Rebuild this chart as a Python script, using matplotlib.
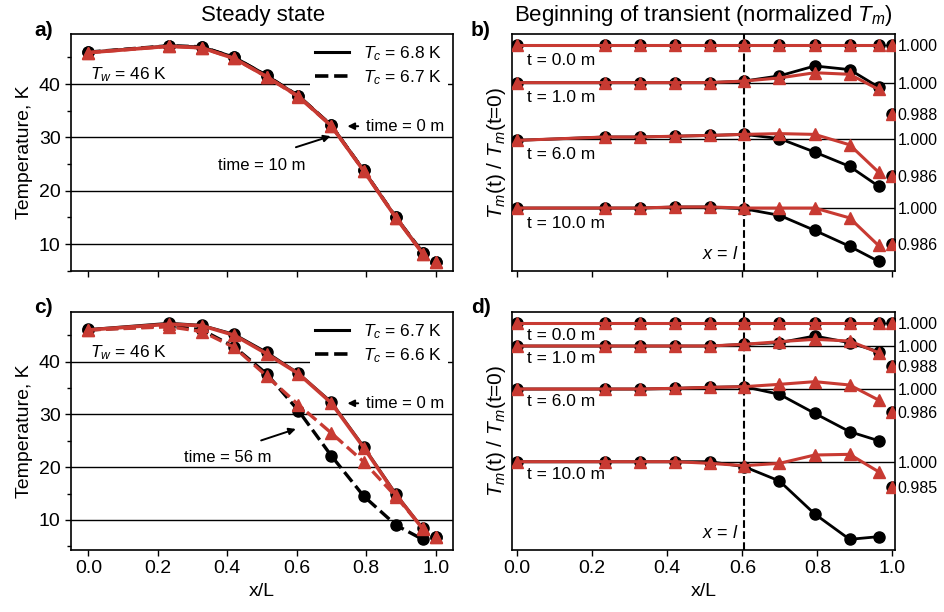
import matplotlib
matplotlib.use('Agg')
import matplotlib.pyplot as plt
import numpy as np

plt.rcParams['font.family'] = ['Liberation Sans', 'DejaVu Sans']
plt.rcParams['mathtext.fontset'] = 'custom'
plt.rcParams['mathtext.rm'] = 'Liberation Sans'
plt.rcParams['mathtext.it'] = 'Liberation Sans:italic'

RED = '#c83a32'

# positions along the channel (x/L)
x_pos = [0.0, 0.233, 0.327, 0.42, 0.513, 0.605, 0.699, 0.793, 0.886, 0.963, 1.0]

# a) steady state, Tc = 6.8 K (time 0) and Tc = 6.7 K (time 10 m)
a_black_solid = [46.0, 47.2, 47.0, 45.1, 41.7, 37.8, 32.4, 23.9, 15.0, 8.4, 6.7]
a_red_solid = [45.9, 47.1, 46.8, 44.8, 41.4, 37.7, 32.2, 23.7, 14.9, 8.2, 6.6]
a_black_dash = [46.0, 47.2, 47.0, 45.0, 41.6, 37.8, 32.3, 23.8, 15.0, 8.4, 6.7]
a_red_dash = [45.9, 47.1, 46.8, 44.8, 41.4, 37.6, 32.2, 23.7, 14.9, 8.2, 6.6]

# c) steady state, Tc = 6.7 K (time 0) and Tc = 6.6 K (time 56 m)
c_black_solid = [46.1, 47.3, 46.9, 45.2, 41.8, 37.8, 32.4, 23.9, 14.9, 8.4, 6.8]
c_red_solid = [46.0, 47.1, 46.8, 45.0, 41.5, 37.7, 32.2, 23.7, 14.7, 8.3, 6.7]
c_black_dash = [46.0, 46.8, 46.0, 42.8, 37.7, 30.7, 22.2, 14.5, 9.0, 6.3, 6.8]
c_red_dash = [46.0, 46.6, 45.7, 42.7, 37.3, 31.8, 26.5, 21.0, 14.4, 8.4, 6.7]

# b) normalized Tm at t = 0, 1, 6, 10 min
times = ['0.0', '1.0', '6.0', '10.0']
b_black = {
    '0.0': [1.0] * 11,
    '1.0': [1.0, 1.0, 1.0, 1.0, 1.0, 1.0006, 1.0026, 1.0064, 1.0050, 0.9983, 0.988],
    '6.0': [0.9996, 1.0009, 1.0009, 1.0012, 1.0015, 1.0019, 1.0003, 0.9951, 0.9896, 0.9820, 0.986],
    '10.0': [1.0, 1.0, 1.0, 1.0004, 1.0004, 0.9997, 0.9972, 0.9914, 0.9853, 0.9795, 0.986],
}
b_red = {
    '0.0': [1.0] * 11,
    '1.0': [1.0, 1.0, 1.0, 1.0, 1.0, 1.0006, 1.0018, 1.0038, 1.0032, 0.9974, 0.988],
    '6.0': [0.9996, 1.0009, 1.0009, 1.0012, 1.0015, 1.0019, 1.0022, 1.0019, 0.9979, 0.9874, 0.986],
    '10.0': [1.0, 1.0, 1.0, 1.0004, 1.0004, 1.0, 1.0, 1.0, 0.9962, 0.9856, 0.986],
}
b_ticks = {'0.0': [1.000], '1.0': [1.000, 0.988], '6.0': [1.000, 0.986], '10.0': [1.000, 0.986]}

# d) same for the second case
d_black = {
    '0.0': [1.0] * 11,
    '1.0': [1.0, 1.0, 1.0, 1.0, 1.0, 1.001, 1.002, 1.006, 1.002, 0.9966, 0.988],
    '6.0': [1.0, 1.0, 1.0, 1.0004, 1.001, 1.0014, 0.9968, 0.9854, 0.9744, 0.969, 0.986],
    '10.0': [1.0, 1.0, 1.0, 1.0, 1.0, 0.997, 0.9884, 0.9686, 0.9534, 0.955, 0.985],
}
d_red = {
    '0.0': [1.0] * 11,
    '1.0': [1.0, 1.0, 1.0, 1.0, 1.0, 1.001, 1.0026, 1.004, 1.003, 0.996, 0.988],
    '6.0': [1.0, 1.0, 1.0, 1.0004, 1.001, 1.0014, 1.0028, 1.0044, 1.0024, 0.9934, 0.986],
    '10.0': [1.0, 1.0, 1.0, 1.0, 0.999, 0.9976, 0.999, 1.004, 1.0044, 0.994, 0.985],
}
d_ticks = {'0.0': [1.000], '1.0': [1.000, 0.988], '6.0': [1.000, 0.986], '10.0': [1.000, 0.985]}

x_l = 0.605  # x = l

# vertical stacking of the normalized curves (plot units of 0.001)
b_offsets = {'0.0': 86.8, '1.0': 72.4, '6.0': 50.6, '10.0': 24.2}
d_offsets = {'0.0': 136.4, '1.0': 122.4, '6.0': 96.6, '10.0': 53.0}


def plot_series(ax, y, color, marker, ls, lw, ms, z):
    # last point (x/L = 1) is drawn on its own, not joined to the line
    ax.plot(x_pos[:-1], y[:-1], color=color, ls=ls, lw=lw, marker=marker, ms=ms, zorder=z)
    ax.plot(x_pos[-1:], y[-1:], color=color, ls='none', marker=marker, ms=ms, zorder=z)


fig = plt.figure(figsize=(9.45, 6.12), dpi=100)
ax_a = fig.add_axes([0.0751, 0.5572, 0.4043, 0.3873])
ax_b = fig.add_axes([0.5418, 0.5572, 0.4053, 0.3873])
ax_c = fig.add_axes([0.0751, 0.1013, 0.4043, 0.3889])
ax_d = fig.add_axes([0.5418, 0.1013, 0.4053, 0.3889])

# ---- steady state panels ----
for ax, bs, rs, bd, rd, labs, ylo in [
        (ax_a, a_black_solid, a_red_solid, a_black_dash, a_red_dash, ['6.8', '6.7'], 4.95),
        (ax_c, c_black_solid, c_red_solid, c_black_dash, c_red_dash, ['6.7', '6.6'], 4.3)]:
    plot_series(ax, bs, 'black', 'o', '-', 1.8, 8, 3)
    plot_series(ax, rs, RED, '^', '-', 2.6, 8.5, 4)
    plot_series(ax, bd, 'black', 'o', '--', 2.4, 8, 3)
    plot_series(ax, rd, RED, '^', '--', 2.4, 8.5, 4)
    ax.set_xlim(-0.05, 1.05)
    ax.set_ylim(ylo, 49.4)
    ax.set_yticks([10, 20, 30, 40])
    ax.set_yticks([5, 15, 25, 35, 45], minor=True)
    ax.set_xticks([0, 0.2, 0.4, 0.6, 0.8, 1.0])
    ax.grid(axis='y', which='major', color='black', lw=1)
    ax.tick_params(labelsize=14, length=4, width=1)
    ax.tick_params(which='minor', length=3, width=1)
    ax.set_ylabel('Temperature, K', fontsize=14)
    h1, = ax.plot([], [], color='black', lw=2.2, ls='-')
    h2, = ax.plot([], [], color='black', lw=2.6, ls='--')
    ax.legend([h1, h2], ['$T_c$ = %s K' % labs[0], '$T_c$ = %s K' % labs[1]],
              loc='upper right', fontsize=12.5, frameon=True, facecolor='white',
              edgecolor='none', framealpha=1, handlelength=2.0, labelspacing=0.3,
              borderaxespad=0.3, borderpad=0.3)
    ax.text(0.006, 41.7, '$T_w$ = 46 K', fontsize=12.5, va='center', ha='left')
    ax.annotate('', xy=(0.738, 32.1), xytext=(0.785, 32.1),
                arrowprops=dict(arrowstyle='-|>', color='black', lw=1.4, mutation_scale=10))
    ax.text(0.80, 32.1, 'time = 0 m', fontsize=12, va='center', ha='left')

ax_a.tick_params(labelbottom=False)
ax_a.text(0.50, 24.8, 'time = 10 m', fontsize=12, va='center', ha='center')
ax_a.annotate('', xy=(0.705, 30.4), xytext=(0.59, 28.0),
              arrowprops=dict(arrowstyle='-|>', color='black', lw=1.4, mutation_scale=10))
ax_c.text(0.40, 21.9, 'time = 56 m', fontsize=12, va='center', ha='center')
ax_c.annotate('', xy=(0.605, 27.4), xytext=(0.49, 24.9),
              arrowprops=dict(arrowstyle='-|>', color='black', lw=1.4, mutation_scale=10))
ax_c.set_xlabel('x/L', fontsize=14)

# ---- normalized transient panels ----
for ax, blk, red, ticks, offs, ytop, tdy in [
        (ax_b, b_black, b_red, b_ticks, b_offsets, 91.1, -11),
        (ax_d, d_black, d_red, d_ticks, d_offsets, 142.8, -9)]:
    tick_pos, tick_lab = [], []
    for t in times:
        base = offs[t]
        ax.axhline(base, color='black', lw=1, zorder=1)
        yb = base + (np.array(blk[t]) - 1) * 1000
        yr = base + (np.array(red[t]) - 1) * 1000
        plot_series(ax, yb, 'black', 'o', '-', 2.0, 8, 3)
        plot_series(ax, yr, RED, '^', '-', 2.2, 8.5, 4)
        ax.annotate('t = %s m' % t, xy=(0.025, base), xytext=(0, tdy),
                    textcoords='offset points', fontsize=12.5, va='center', ha='left')
        for v in ticks[t]:
            tick_pos.append(base + (v - 1) * 1000)
            tick_lab.append('%.3f' % v)
    ax.axvline(x_l, color='black', lw=1.5, ls='--', zorder=2)
    ax.text(x_l - 0.015, 0.07, '$x$ = $l$', transform=ax.get_xaxis_transform(),
            fontsize=13, ha='right', va='center')
    ax.set_xlim(-0.014, 1.007)
    ax.set_ylim(0, ytop)
    ax.yaxis.tick_right()
    ax.set_yticks(tick_pos)
    ax.set_yticklabels(tick_lab)
    ax.tick_params(axis='y', labelsize=11.5, length=0, pad=2)
    ax.tick_params(axis='x', labelsize=14, length=4, width=1)
    ax.set_xticks([0, 0.2, 0.4, 0.6, 0.8, 1.0])
    ax.set_ylabel('$T_m$(t) / $T_m$(t=0)', fontsize=15, labelpad=3)
    ax.yaxis.set_label_position('left')

ax_b.tick_params(labelbottom=False)
ax_d.set_xlabel('x/L', fontsize=14)

for ax in [ax_a, ax_b, ax_c, ax_d]:
    for s in ax.spines.values():
        s.set_linewidth(1.2)

fig.text(0.278, 0.975, 'Steady state', fontsize=16, ha='center', va='center')
fig.text(0.744, 0.975, 'Beginning of transient (normalized $T_m$)', fontsize=16,
         ha='center', va='center')
for lab, x, y in [('a)', 0.046, 0.950), ('b)', 0.509, 0.950), ('c)', 0.046, 0.498), ('d)', 0.509, 0.498)]:
    fig.text(x, y, lab, fontsize=15, fontweight='bold', ha='center', va='center')

fig.savefig('out.png', dpi=100)
